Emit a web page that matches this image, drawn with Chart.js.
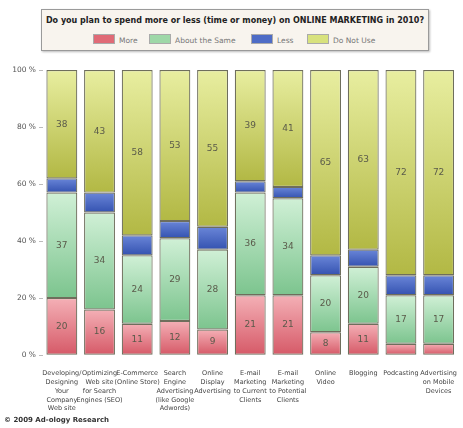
<!DOCTYPE html>
<html><head><meta charset="utf-8">
<script src="https://cdn.jsdelivr.net/npm/chart.js@4.4.0/dist/chart.umd.min.js"></script>
<style>
html,body{margin:0;padding:0;background:#fff;width:463px;height:428px;overflow:hidden;font-family:"DejaVu Sans",Arial,sans-serif}
#hdr{position:absolute;left:41px;top:9px;width:386px;height:40px;border:1px solid #9a9a9a;background:#f8f4ee;box-shadow:1px 1px 2px #bbb}
#ttl{position:absolute;top:6px;left:0;width:100%;text-align:center;font-weight:bold;font-size:8px;color:#222;white-space:nowrap}
#leg{position:absolute;top:24px;left:0;width:100%;font-size:7.5px;color:#777}
.it{position:absolute;top:0;white-space:nowrap}
.sw{display:inline-block;width:20px;height:8px;vertical-align:-1px;margin-right:4px;border:1px solid #aaa}
#wrap{position:absolute;left:0;top:55px;width:463px;height:364px}
#foot{position:absolute;left:4px;top:416px;font-size:7px;font-weight:bold;color:#333}
</style></head><body>
<div id="hdr"><div id="ttl">Do you plan to spend more or less (time or money) on ONLINE MARKETING in 2010?</div>
<div id="leg"></div></div>
<div id="wrap"><canvas id="c" width="463" height="364"></canvas></div>
<div id="foot">© 2009 Ad-ology Research</div>
<script>
const categories = [
 ["Developing/","Designing","Your","Company","Web site"],
 ["Optimizing","Web site","for Search","Engines (SEO)"],
 ["E-Commerce","(Online Store)"],
 ["Search","Engine","Advertising","(like Google","Adwords)"],
 ["Online","Display","Advertising"],
 ["E-mail","Marketing","to Current","Clients"],
 ["E-mail","Marketing","to Potential","Clients"],
 ["Online","Video"],
 ["Blogging"],
 ["Podcasting"],
 ["Advertising","on Mobile","Devices"]
];
const seriesNames = ["More","About the Same","Less","Do Not Use"];
const more     = [20,16,11,12,9,21,21,8,11,4,4];
const same     = [37,34,24,29,28,36,34,20,20,17,17];
const less     = [5,7,7,6,8,4,4,7,6,7,7];
const doNotUse = [38,43,58,53,55,39,41,65,63,72,72];
const yTicks = [0,20,40,60,80,100];

const grads = [
 ["#f4b0b6","#d65a68"],
 ["#d0f0d6","#7cc48e"],
 ["#6a86d8","#3452b0"],
 ["#e8eea0","#b2b844"]
];
const legendCols = ["#e06a76","#9ed8a8","#4e6cc6","#d8e27e"];
const legX = [51,107,209,265];
const leg = document.getElementById('leg');
seriesNames.forEach((n,i)=>{
  const d=document.createElement('div');d.className='it';d.style.left=legX[i]+'px';
  d.innerHTML='<span class="sw" style="background:'+legendCols[i]+'"></span>'+n;leg.appendChild(d);
});

const gradPlugin = {
  id:'grad',
  beforeDatasetsDraw(chart){
    const c = chart.ctx;
    chart.data.datasets.forEach((ds,di)=>{
      chart.getDatasetMeta(di).data.forEach(el=>{
        const top=Math.min(el.y,el.base), bot=Math.max(el.y,el.base);
        const g=c.createLinearGradient(0,top,0,bot);
        g.addColorStop(0,grads[di][0]); g.addColorStop(1,grads[di][1]);
        el.options.backgroundColor=g;
      });
    });
  },
  afterDatasetsDraw(chart){
    const c=chart.ctx;
    c.save();
    c.font='9px "DejaVu Sans", sans-serif';
    c.fillStyle='#5a5a4a';
    c.textAlign='center';c.textBaseline='middle';
    chart.data.datasets.forEach((ds,di)=>{
      if(di===2) return;
      chart.getDatasetMeta(di).data.forEach((el,i)=>{
        const v=ds.data[i]; if(v<5) return;
        c.fillText(String(v),el.x,(el.y+el.base)/2);
      });
    });
    c.restore();
  }
};

const dsArr=[more,same,less,doNotUse].map((d,i)=>({
  label:seriesNames[i], data:d,
  backgroundColor:()=>legendCols[i],
  borderColor:'#6e6e5c', borderWidth:1.2, borderSkipped:false,
  categoryPercentage:1, barPercentage:0.82
}));

new Chart(document.getElementById('c'),{
  type:'bar',
  data:{labels:categories,datasets:dsArr},
  plugins:[gradPlugin],
  options:{
    responsive:false, animation:false,
    devicePixelRatio:1,
    layout:{padding:{top:15,right:0,left:0,bottom:0}},
    plugins:{legend:{display:false},tooltip:{enabled:false},title:{display:false}},
    scales:{
      x:{stacked:true,grid:{display:false},border:{display:false},
         ticks:{autoSkip:false,maxRotation:0,minRotation:0,font:{size:6.5,lineHeight:1.35,family:'"DejaVu Sans", sans-serif'},color:'#444',padding:6}},
      y:{stacked:true,min:0,max:100,
         afterFit(s){s.width=43;},
         afterBuildTicks(s){s.ticks=yTicks.map(v=>({value:v}));},
         grid:{display:true,drawOnChartArea:false,drawTicks:true,tickLength:4,color:'#bbb'},
         border:{display:false},
         ticks:{callback:v=>v+' %',font:{size:7.5,family:'"DejaVu Sans", sans-serif'},color:'#555',padding:3}}
    }
  }
});
</script>
</body></html>
